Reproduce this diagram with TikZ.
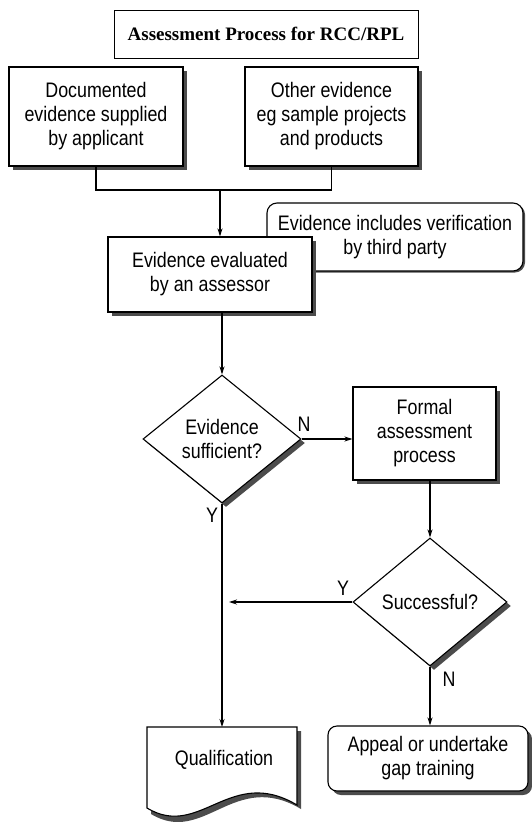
\documentclass[tikz,border=0pt]{standalone}
\usepackage{fontspec}
\setmainfont{Liberation Sans}
\newfontfamily\narrowsans[FakeStretch=0.85]{Liberation Sans}
\newfontfamily\titlefont{Liberation Serif}
\usetikzlibrary{shapes.geometric,shadows,arrows.meta}
\begin{document}
\begin{tikzpicture}[x=1pt,y=-1pt,line width=1.1pt,
  shad/.style={drop shadow={shadow xshift=4pt,shadow yshift=-4pt,fill=black!70,opacity=1}},
  box/.style={draw,fill=white,align=center,inner sep=0pt,font=\narrowsans\fontsize{21}{24}\selectfont},
  dia/.style={box,diamond,aspect=1.25},
  lbl/.style={font=\narrowsans\fontsize{21}{24}\selectfont,inner sep=0pt},
  arr/.style={-{Stealth[length=8pt,width=5pt]}}
]
\useasboundingbox (0,0) rectangle (531,822);

% title
\node[draw,line width=1pt,minimum width=304pt,minimum height=48pt,inner sep=0pt,
      font=\titlefont\bfseries\fontsize{19}{22}\selectfont] (title) at (266,34) {Assessment Process for RCC/RPL};

% evidence boxes
\node[box,shad,minimum width=174pt,minimum height=99pt] (doc1) at (96,116.5)
  {Documented\\evidence supplied\\by applicant};
\node[box,shad,minimum width=173pt,minimum height=99pt] (doc2) at (331.5,116.5)
  {Other evidence\\eg sample projects\\and products};

% note (behind evaluation box)
\node[box,rounded corners=10pt,minimum width=256pt,minimum height=68pt,
      drop shadow={shadow xshift=2pt,shadow yshift=-1.5pt,fill=black!70,opacity=1}] (note) at (395,237)
  {\raisebox{3pt}{\parbox{256pt}{\centering Evidence includes verification\\by third party}}};

% evaluation
\node[box,shad,minimum width=204pt,minimum height=75pt] (eval) at (210,274.5)
  {Evidence evaluated\\by an assessor};

% decisions
\node[dia,shad,minimum width=158pt,minimum height=128pt] (d1) at (222,439)
  {Evidence\\sufficient?};
\node[box,shad,minimum width=143pt,minimum height=93pt] (formal) at (424.5,433.5)
  {Formal\\assessment\\process};
\node[dia,shad,minimum width=154pt,minimum height=128pt] (d2) at (430,602)
  {Successful?};

% appeal
\node[box,shad,rounded corners=9pt,minimum width=200pt,minimum height=65pt] (appeal) at (428,758.5)
  {Appeal or undertake\\gap training};

% qualification (document shape)
\fill[black!70] (151,731) -- (301,731) -- (301,809)
  .. controls (234,769) and (204,846) .. (151,814) -- cycle;
\draw[fill=white] (147,727) -- (297,727) -- (297,805)
  .. controls (230,765) and (200,840) .. (147,808) -- cycle;
\node[lbl] (qual) at (224,760) {Qualification};

% connectors
\coordinate (j) at (220,190);
\draw (doc1.south) |- (j) -| (doc2.south);
\draw[arr] (j) -- (j |- eval.north);
\draw[arr] (eval.south -| d1.north) -- (d1.north);
\draw[arr] (d1.east) -- (formal.west |- d1.east);
\draw[arr] (formal.south -| d2.north) -- (d2.north);
\coordinate (qtop) at (222,727);
\draw[arr] (d1.south) -- (qtop);
\coordinate (yend) at (229,601);
\draw[arr] (d2.west) -- (yend |- d2.west);
\draw[arr] (d2.south) -- (d2.south |- appeal.north);

% labels
\node[lbl] (n1) at (304,424) {N};
\node[lbl] (y1) at (212,515) {Y};
\node[lbl] (y2) at (343,588) {Y};
\node[lbl] (n2) at (449,679) {N};
\end{tikzpicture}
\end{document}
